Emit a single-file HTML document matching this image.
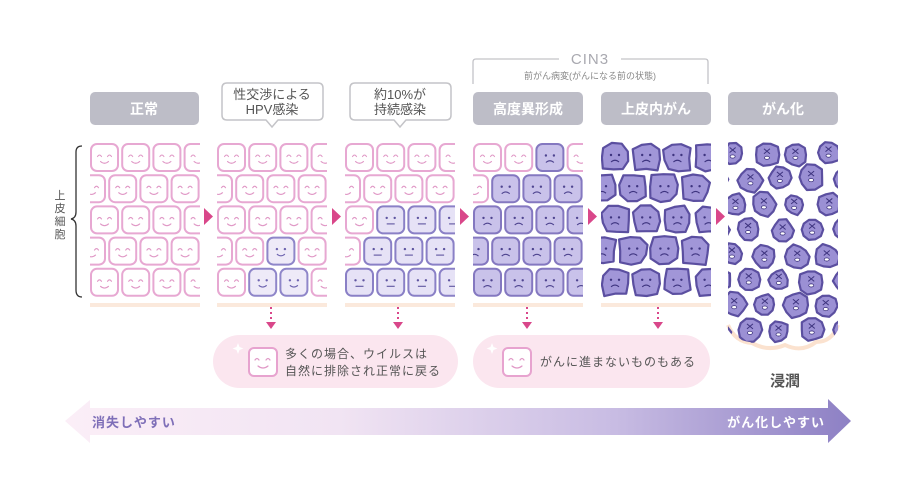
<!DOCTYPE html>
<html><head><meta charset="utf-8">
<style>
html,body{margin:0;padding:0;background:#fff;}
body{width:900px;height:497px;overflow:hidden;position:relative;font-family:"Liberation Sans","Noto Sans CJK JP",sans-serif;}
svg text{font-family:"Liberation Sans","Noto Sans CJK JP",sans-serif;}
</style></head><body>
<svg id="s" width="900" height="497" viewBox="0 0 900 497" xmlns="http://www.w3.org/2000/svg">
<defs>
<linearGradient id="ga" x1="0" x2="1" y1="0" y2="0">
<stop offset="0" stop-color="#fbeef7"/><stop offset="0.35" stop-color="#f1e4f3"/><stop offset="0.7" stop-color="#c8bce3"/><stop offset="1" stop-color="#8d80c4"/>
</linearGradient>
<clipPath id="c0"><rect x="90" y="138" width="110" height="165"/></clipPath>
<clipPath id="c1"><rect x="217" y="138" width="110" height="165"/></clipPath>
<clipPath id="c2"><rect x="345" y="138" width="110" height="165"/></clipPath>
<clipPath id="c3"><rect x="473" y="138" width="110" height="165"/></clipPath>
<clipPath id="c4"><rect x="601" y="138" width="110" height="165"/></clipPath>
<clipPath id="c5"><path d="M728 138 H838 V330 Q830 345 815 340 Q800 352 785 344 Q765 352 750 342 Q735 340 728 330 Z"/></clipPath>
</defs>

<g fill="#bdbdc7">
<rect x="90" y="92" width="109" height="33" rx="5"/>
<rect x="473" y="92" width="110" height="33" rx="5"/>
<rect x="601" y="92" width="110" height="33" rx="5"/>
<rect x="728" y="92" width="110" height="33" rx="5"/>
</g>
<g fill="#fff" font-size="14" font-weight="bold" text-anchor="middle">
<text x="144" y="114">正常</text>
<text x="528" y="114">高度異形成</text>
<text x="656" y="114">上皮内がん</text>
<text x="783" y="114">がん化</text>
</g>
<g fill="#fff" stroke="#c4c4c8" stroke-width="1.5">
<path d="M227 83 H318 Q323 83 323 88 V115 Q323 120 318 120 H278 L272 127 L266 120 H227 Q222 120 222 115 V88 Q222 83 227 83 Z"/>
<path d="M355 83 H446 Q451 83 451 88 V115 Q451 120 446 120 H406 L400 127 L394 120 H355 Q350 120 350 115 V88 Q350 83 355 83 Z"/>
</g>
<g fill="#555" font-size="13" text-anchor="middle">
<text x="272" y="99">性交渉による</text><text x="272" y="114">HPV感染</text>
<text x="400" y="99">約10%が</text><text x="400" y="114">持続感染</text>
</g>
<path d="M473 84 V62 Q473 59 476 59 H559 M621 59 H705 Q708 59 708 62 V84" fill="none" stroke="#c4c4c8" stroke-width="1.3"/>
<text x="590" y="64" font-size="15" fill="#a9a9b0" text-anchor="middle" letter-spacing="1">CIN3</text>
<text x="590" y="79" font-size="9" fill="#888" text-anchor="middle">前がん病変(がんになる前の状態)</text>
<path d="M82 146 Q76 146 76 152 V212 Q76 218 71 219 Q76 220 76 226 V290 Q76 297 82 297" fill="none" stroke="#333" stroke-width="1.3"/>
<g font-size="11" fill="#555" text-anchor="middle"><text x="60" y="199">上</text><text x="60" y="212">皮</text><text x="60" y="225">細</text><text x="60" y="238">胞</text></g>
<g fill="#fbe9dc">
<rect x="90" y="303" width="110" height="4"/><rect x="217" y="303" width="110" height="4"/>
<rect x="345" y="303" width="110" height="4"/><rect x="473" y="303" width="110" height="4"/>
<rect x="601" y="303" width="110" height="4"/>
</g>
<g id="cells"></g>
<g fill="#d9478a">
<path d="M204 208 L213 216.5 L204 225 Z"/><path d="M332 208 L341 216.5 L332 225 Z"/>
<path d="M460 208 L469 216.5 L460 225 Z"/><path d="M588 208 L597 216.5 L588 225 Z"/>
<path d="M716 208 L725 216.5 L716 225 Z"/>
</g>
<g stroke="#d9478a" stroke-width="2" stroke-dasharray="2 3">
<line x1="271" y1="307" x2="271" y2="322"/><line x1="398" y1="307" x2="398" y2="322"/>
<line x1="527" y1="307" x2="527" y2="322"/><line x1="658" y1="307" x2="658" y2="322"/>
</g>
<g fill="#d9478a">
<path d="M266 322 H276 L271 329 Z"/><path d="M393 322 H403 L398 329 Z"/>
<path d="M522 322 H532 L527 329 Z"/><path d="M653 322 H663 L658 329 Z"/>
</g>
<rect x="213" y="335" width="245" height="53" rx="26.5" fill="#fbe6ef"/>
<rect x="473" y="335" width="237" height="53" rx="26.5" fill="#fbe6ef"/>
<g fill="#fff" stroke="#e7a3cf" stroke-width="2">
<rect x="249" y="348" width="28" height="28" rx="5"/><rect x="503" y="348" width="28" height="28" rx="5"/>
</g>
<g fill="none" stroke="#e098c6" stroke-width="1.2" stroke-linecap="round">
<path d="M255 360 q2 -3 4 0 M266 360 q2 -3 4 0 M258 366 q5 4 10 0"/>
<path d="M509 360 q2 -3 4 0 M520 360 q2 -3 4 0 M512 366 q5 4 10 0"/>
</g>
<g fill="#fff"><path d="M238 343 l1.5 4 4 1.5 -4 1.5 -1.5 4 -1.5 -4 -4 -1.5 4 -1.5z"/><path d="M492 343 l1.5 4 4 1.5 -4 1.5 -1.5 4 -1.5 -4 -4 -1.5 4 -1.5z"/></g>
<g font-size="12" fill="#555">
<text x="285" y="358" letter-spacing="1">多くの場合、ウイルスは</text>
<text x="285" y="375" letter-spacing="1">自然に排除され正常に戻る</text>
<text x="540" y="366" letter-spacing="1">がんに進まないものもある</text>
</g>
<text x="785" y="386" font-size="15" font-weight="bold" fill="#555" text-anchor="middle">浸潤</text>
<path d="M65 421 L90 400 V408 H828 V399 L851 421 L828 443 V435 H90 V443 Z" fill="url(#ga)"/>
<text x="92" y="427" font-size="13" font-weight="bold" fill="#7f6fb8" letter-spacing="1">消失しやすい</text>
<text x="825" y="427" font-size="13" font-weight="bold" fill="#fff" text-anchor="end" letter-spacing="1">がん化しやすい</text>
</svg>
<script>
(function(){
var g=document.getElementById('cells'),h='';
var seed=7;function rnd(){seed=(seed*9301+49297)%233280;return seed/233280;}
var cols=[90,217,345,473,601];
function type(c,r,k){
 if(c==0)return 0;
 if(c==1){if(r==3&&k==2)return 1;if(r==4&&(k==1||k==2))return 1;return 0;}
 if(c==2){if(r==2&&k>=1)return 2;if(r==3&&k>=1)return 2;if(r==4)return 2;return 0;}
 if(c==3){if(r==0)return k==2?3:0;if(r==1&&k==0)return 0;return 3;}
 return 4;
}
function face(cx,cy,t,col){
 var s='';
 if(t==0){s='<path d="M'+(cx-7)+' '+(cy-1)+' q2 -3 4 0 M'+(cx+3)+' '+(cy-1)+' q2 -3 4 0 M'+(cx-4)+' '+(cy+4)+' q4 3.5 8 0" fill="none" stroke="'+col+'" stroke-width="1.1" stroke-linecap="round"/>';}
 else if(t==1){s='<circle cx="'+(cx-4)+'" cy="'+(cy-2)+'" r="1.2" fill="'+col+'"/><circle cx="'+(cx+4)+'" cy="'+(cy-2)+'" r="1.2" fill="'+col+'"/><path d="M'+(cx-4)+' '+(cy+3)+' q4 3.5 8 0" fill="none" stroke="'+col+'" stroke-width="1.1"/>';}
 else if(t==2){s='<circle cx="'+(cx-4)+'" cy="'+(cy-2)+'" r="1.2" fill="'+col+'"/><circle cx="'+(cx+4)+'" cy="'+(cy-2)+'" r="1.2" fill="'+col+'"/><path d="M'+(cx-4)+' '+(cy+4)+' h8" stroke="'+col+'" stroke-width="1.1"/>';}
 else {s='<circle cx="'+(cx-4)+'" cy="'+(cy-2)+'" r="1.2" fill="'+col+'"/><circle cx="'+(cx+4)+'" cy="'+(cy-2)+'" r="1.2" fill="'+col+'"/><path d="M'+(cx-4)+' '+(cy+5)+' q4 -3.5 8 0" fill="none" stroke="'+col+'" stroke-width="1.1"/>';}
 return s;
}
var sty=[["#fff","#e7a8d2","#e098c6"],["#eeeaf8","#8f86c9","#6e64b0"],["#e6e2f6","#8a80c6","#5e55a0"],["#c9c2ea","#8478c0","#4f4590"],["#a196d8","#5b4fa0","#3e347f"]];
for(var c=0;c<5;c++){
 h+='<g clip-path="url(#c'+c+')">';
 for(var r=0;r<5;r++){
  var y=143+r*31.2;
  for(var k=0;k<5;k++){
   var x=cols[c]+(r%2?-13:0)+k*31.2;
   var t=type(c,r,k),st=sty[t],cx=x+14,cy=y+14;
   if(t==4){
    var p='',n=9;var rot=rnd()*0.6;
    for(var i=0;i<n;i++){var a=i/n*Math.PI*2+rot;var rr=14.5+(rnd()-0.5)*3;var sq=1/Math.max(Math.abs(Math.cos(a)),Math.abs(Math.sin(a)));sq=Math.min(sq,1.3);p+=(i?'L':'M')+(cx+Math.cos(a)*rr*sq*0.9).toFixed(1)+' '+(cy+Math.sin(a)*rr*sq*0.9).toFixed(1);}
    h+='<path d="'+p+'Z" fill="'+st[0]+'" stroke="'+st[1]+'" stroke-width="2.2" stroke-linejoin="round"/>';
    h+=face(cx,cy,3,st[2]);
   } else {
    h+='<rect x="'+(x+1)+'" y="'+(y+1)+'" width="27" height="27" rx="6" fill="'+st[0]+'" stroke="'+st[1]+'" stroke-width="2"/>';
    h+=face(cx+0.5,cy+0.5,t==0?0:(t==1?1:(t==2?2:3)),st[2]);
   }
  }
 }
 h+='</g>';
}
h+='<path d="M728 325 Q735 342 752 343 Q768 352 785 345 Q802 353 816 342 Q832 342 838 325" fill="none" stroke="#fbe2cf" stroke-width="4"/>';
h+='<g clip-path="url(#c5)">';
var pts=[];
for(var r=0;r<8;r++){for(var k=0;k<5;k++){var x=734+k*31+(r%2?-15:0)+(rnd()-0.5)*5,y=153+r*25.5+(rnd()-0.5)*4;pts.push([x,y]);}}
pts.forEach(function(q){
 var cx=q[0],cy=q[1],R=9.5+rnd()*3.5,p='',n=10;
 for(var i=0;i<n;i++){var a=i/n*Math.PI*2;var rr=R*(0.88+rnd()*0.25);p+=(i?'L':'M')+(cx+Math.cos(a)*rr).toFixed(1)+' '+(cy+Math.sin(a)*rr).toFixed(1);}
 h+='<path d="'+p+'Z" fill="#9b90d4" stroke="#5b4fa0" stroke-width="2.2" stroke-linejoin="round"/>';
 h+='<path d="M'+(cx-3)+' '+(cy-6)+' l6 5 M'+(cx+3)+' '+(cy-6)+' l-6 5" stroke="#3e347f" stroke-width="1"/><ellipse cx="'+cx+'" cy="'+(cy+3)+'" rx="2.5" ry="1.6" fill="#fff" stroke="#3e347f" stroke-width="0.8"/>';
});
h+='</g>';
g.innerHTML=h;
})();
</script>
</body></html>
